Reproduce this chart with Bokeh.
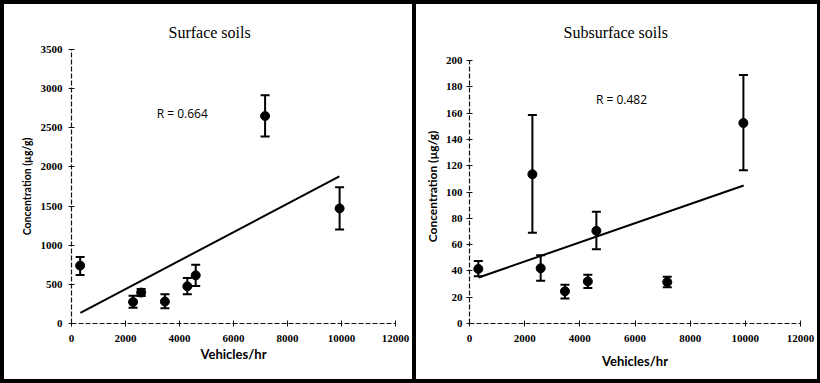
from bokeh.plotting import figure
from bokeh.layouts import row
from bokeh.models import (ColumnDataSource, Whisker, TeeHead, Label, Title,
                          FixedTicker, Range1d)
from bokeh.embed import file_html
from bokeh.resources import INLINE

# ---------------- data ----------------
vehicles = [320, 2280, 2580, 3460, 4290, 4600, 7170, 9930]

surf_conc = [740, 275, 395, 280, 475, 615, 2650, 1470]
surf_upper = [850, 355, 440, 375, 580, 750, 2915, 1740]
surf_lower = [620, 200, 350, 195, 375, 480, 2390, 1200]
surf_trend_x = [330, 9920]
surf_trend_y = [135, 1880]
surf_r = "R = 0.664"

sub_conc = [41.5, 113.5, 42, 24.5, 32, 70.5, 31.5, 152.5]
sub_upper = [47.5, 158.5, 52, 29.5, 37, 85, 35.5, 189]
sub_lower = [36, 69, 32.5, 19, 27, 56.5, 27.5, 116.5]
sub_trend_x = [330, 9940]
sub_trend_y = [35, 105]
sub_r = "R = 0.482"

x_ticks = [0, 2000, 4000, 6000, 8000, 10000, 12000]
surf_y_ticks = [0, 500, 1000, 1500, 2000, 2500, 3000, 3500]
sub_y_ticks = [0, 20, 40, 60, 80, 100, 120, 140, 160, 180, 200]

TICK_FONT = "Liberation Serif"
LABEL_FONT = "Lato"


def make_panel(title, conc, upper, lower, tx, ty, rtext, rpos, yticks, ymax,
               yrange_end, width, height, mb, ylab_size, xlab_standoff,
               ylab_standoff, tick_standoff_y, title_offset, borders):
    p = figure(width=width, height=height, output_backend="svg",
               toolbar_location=None, x_range=Range1d(0, 12000),
               y_range=Range1d(0, yrange_end), min_border_left=mb[0],
               min_border_right=mb[1], min_border_top=mb[2],
               min_border_bottom=mb[3])
    p.styles = borders
    p.outline_line_color = None
    p.grid.visible = False
    p.background_fill_color = "white"
    p.border_fill_color = "white"

    t = Title(text=title, align="left", text_font="Liberation Serif",
              text_font_size="16px", text_font_style="normal",
              text_color="black", offset=title_offset, standoff=18)
    p.add_layout(t, "above")

    src = ColumnDataSource(dict(x=vehicles, y=conc, upper=upper, lower=lower))
    w = Whisker(source=src, base="x", upper="upper", lower="lower",
                line_width=2, line_color="black",
                upper_head=TeeHead(size=9, line_width=2, line_color="black"),
                lower_head=TeeHead(size=9, line_width=2, line_color="black"))
    p.add_layout(w)
    p.line(tx, ty, line_width=2, line_color="black")
    p.scatter("x", "y", source=src, size=9, fill_color="black",
              line_color="black")

    p.add_layout(Label(x=rpos[0], y=rpos[1], text=rtext, text_align="center",
                       text_baseline="middle", text_font="Open Sans",
                       text_font_size="12px", text_color="black"))

    for ax, ticks in ((p.xaxis[0], x_ticks), (p.yaxis[0], yticks)):
        ax.ticker = FixedTicker(ticks=ticks)
        ax.minor_tick_line_color = None
        ax.major_tick_in = 3
        ax.major_tick_out = 3
        ax.axis_line_color = "#111111"
        ax.axis_line_width = 1.2
        ax.axis_line_dash = "5 2"
        ax.major_tick_line_color = "#111111"
        ax.major_label_text_font = TICK_FONT
        ax.major_label_text_font_style = "bold"
        ax.major_label_text_font_size = "11px"
        ax.major_label_text_color = "black"
        ax.axis_label_text_font = LABEL_FONT
        ax.axis_label_text_font_style = "bold"
        ax.axis_label_text_color = "black"

    p.yaxis.bounds = (0, ymax)
    p.xaxis.axis_label = "Vehicles/hr"
    p.xaxis.axis_label_text_font_size = "13px"
    p.xaxis.axis_label_standoff = xlab_standoff
    p.xaxis.major_label_standoff = 8
    p.yaxis.axis_label = "Concentration (\u00b5g/g)"
    p.yaxis.axis_label_text_font_size = ylab_size
    p.yaxis.axis_label_standoff = ylab_standoff
    p.yaxis.major_label_standoff = tick_standoff_y
    return p


left = make_panel("Surface soils", surf_conc, surf_upper, surf_lower,
                  surf_trend_x, surf_trend_y, surf_r, (4100, 2680),
                  surf_y_ticks, 3500, 3500, width=414, height=383,
                  mb=(67, 23, 45, 64),
                  ylab_size="10.5px", xlab_standoff=1, ylab_standoff=5,
                  tick_standoff_y=6, title_offset=97,
                  borders={"border-top": "4px solid black",
                           "border-left": "4px solid black",
                           "border-bottom": "4px solid black",
                           "border-right": "2px solid black"})

right = make_panel("Subsurface soils", sub_conc, sub_upper, sub_lower,
                   sub_trend_x, sub_trend_y, sub_r, (5510, 170),
                   sub_y_ticks, 200, 208.4, width=406, height=383,
                   mb=(53, 22, 45, 64),
                   ylab_size="12px", xlab_standoff=8, ylab_standoff=3,
                   tick_standoff_y=4, title_offset=94,
                   borders={"border-top": "4px solid black",
                            "border-right": "3px solid black",
                            "border-bottom": "4px solid black",
                            "border-left": "2px solid black"})

layout = row(left, right, spacing=0)
open("out.html", "w").write(file_html(layout, INLINE))
